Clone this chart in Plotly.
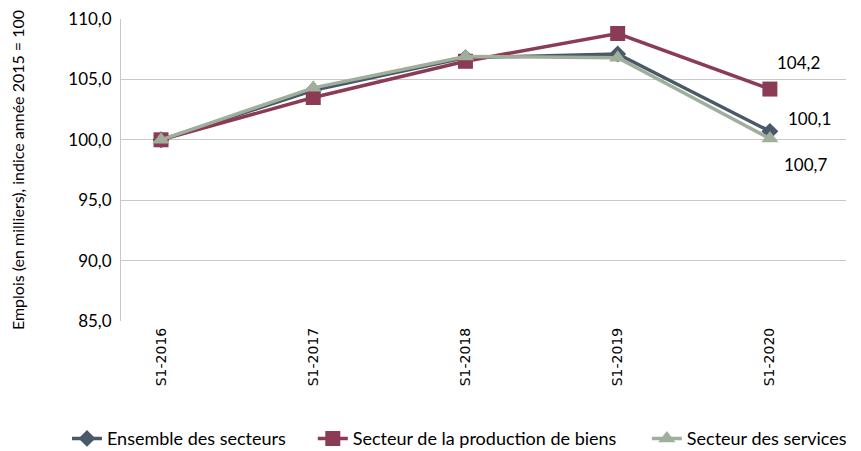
import plotly.graph_objects as go

periods = ["S1-2016", "S1-2017", "S1-2018", "S1-2019", "S1-2020"]
ensemble = [100.0, 104.1, 106.8, 107.1, 100.7]
production = [100.0, 103.5, 106.5, 108.8, 104.2]
services = [100.0, 104.3, 106.9, 106.8, 100.1]

FONT = "Lato"
GRID = "#C8C8C8"

series = [
    ("Ensemble des secteurs", ensemble, "#4A5968", "diamond", 13, "legend", 0.0685),
    ("Secteur de la production de biens", production, "#8C3B55", "square", 15, "legend2", 0.354),
    ("Secteur des services", services, "#9FAF9B", "triangle-up", 15, "legend3", 0.742),
]

fig = go.Figure()
legends = {}
for name, values, color, symbol, size, legend_id, legend_x in series:
    fig.add_trace(
        go.Scatter(
            x=periods,
            y=values,
            name=name,
            mode="lines+markers",
            line={"color": color, "width": 3.5},
            marker={"symbol": symbol, "size": size, "color": color},
            legend=legend_id,
            showlegend=True,
        )
    )
    legends[legend_id] = dict(
        orientation="h",
        xref="container", yref="container",
        x=legend_x, xanchor="left",
        y=0.045, yanchor="middle",
        font={"family": FONT, "size": 18, "color": "#000000"},
        itemwidth=30,
        bgcolor="rgba(0,0,0,0)",
        visible=True,
    )

# end labels, placed as in the source chart
labels = [
    (production, 29, -27),
    (services, 40, -20),
    (ensemble, 36, 33),
]
for values, dx, dy in labels:
    fig.add_annotation(
        x=periods[-1], y=values[-1], xshift=dx, yshift=-dy, showarrow=False,
        text=f"{values[-1]:.1f}".replace(".", ","),
        font={"family": FONT, "size": 17, "color": "#000000"},
    )

fig.update_xaxes(
    range=[-0.263, 4.5],
    automargin=False,
    showgrid=False,
    showline=False,
    zeroline=False,
    tickangle=-90,
    tickfont={"family": "DejaVu Sans", "size": 14, "color": "#000000"},
    ticks="",
    ticklabelstandoff=3,
)
fig.update_yaxes(
    range=[85, 110],
    automargin=False,
    dtick=5,
    tickformat=".1f",
    showgrid=True,
    gridcolor=GRID,
    gridwidth=1,
    zeroline=False,
    showline=True,
    linecolor=GRID,
    ticks="",
    ticklabelstandoff=5,
    ticklabeloverflow="allow",
    tickfont={"family": FONT, "size": 17, "color": "#000000"},
    title={"text": "Emplois (en milliers), indice année 2015 = 100",
           "font": {"family": FONT, "size": 16, "color": "#000000"}, "standoff": 45},
)
fig.update_layout(
    width=861,
    height=451,
    showlegend=True,
    separators=", ",
    paper_bgcolor="white",
    plot_bgcolor="white",
    margin=dict(t=11, b=138, l=113, r=23),
    **legends,
)
fig.write_html("out.html")
